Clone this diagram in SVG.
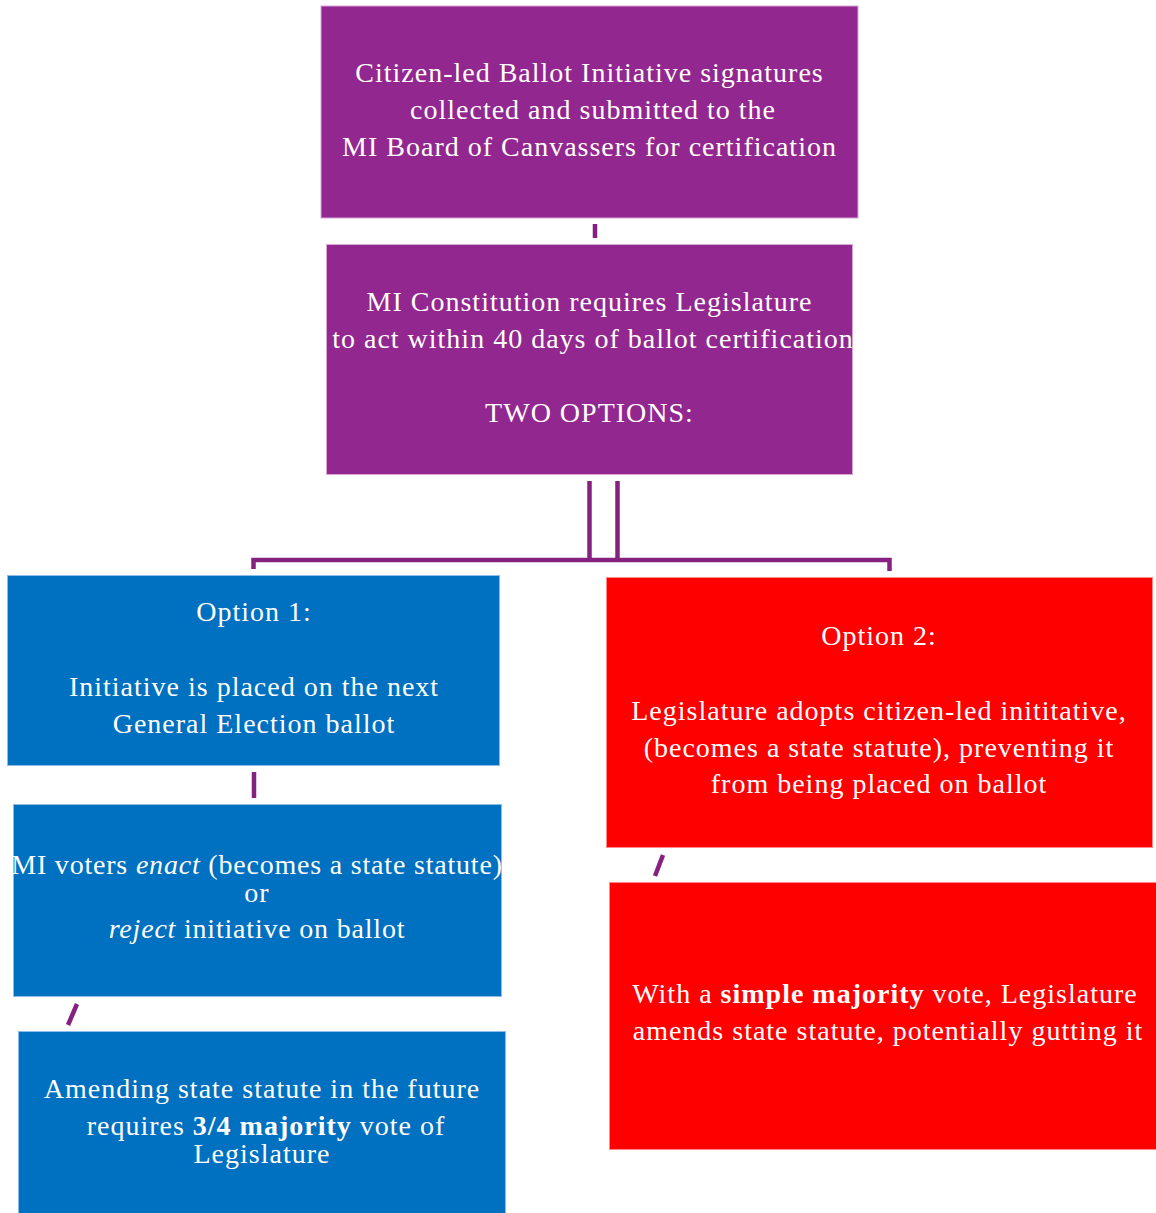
<svg xmlns="http://www.w3.org/2000/svg" width="1156" height="1213" viewBox="0 0 1156 1213">
<style>
.t{font-family:"Liberation Serif","Times New Roman",serif;font-size:28px;letter-spacing:1px;fill:#ffffff;text-anchor:middle}
.n{letter-spacing:0.8px}
.p{fill:#92278F;stroke:#D9A6D6;stroke-width:1}
.b{fill:#0070C0;stroke:#8DBDE6;stroke-width:1}
.r{fill:#FF0000;stroke:#FF8A8A;stroke-width:1}
.c{stroke:#862181;stroke-width:4.5;fill:none}
</style>
<rect width="1156" height="1213" fill="#ffffff"/>
<g id="connectors">
<line class="c" x1="595" y1="224" x2="595" y2="238"/>
<line class="c" x1="589.5" y1="481" x2="589.5" y2="560"/>
<line class="c" x1="617.5" y1="481" x2="617.5" y2="560"/>
<polyline class="c" points="253.5,569 253.5,560 889.5,560 889.5,571"/>
<line class="c" x1="254" y1="772" x2="254" y2="798"/>
<line class="c" x1="68" y1="1025" x2="77" y2="1004"/>
<line class="c" x1="655" y1="876" x2="663" y2="855"/>
</g>
<g id="n1">
<rect class="p" x="321" y="6" width="537" height="212"/>
<text class="t" x="589.5" y="82">Citizen-led Ballot Initiative signatures</text>
<text class="t" x="593" y="119">collected and submitted to the</text>
<text class="t" x="589.5" y="156">MI Board of Canvassers for certification</text>
</g>
<g id="n2">
<rect class="p" x="326.5" y="244.5" width="526" height="230"/>
<text class="t" x="589.5" y="311">MI Constitution requires Legislature</text>
<text class="t" x="593" y="348">to act within 40 days of ballot certification</text>
<text class="t" x="589.5" y="422">TWO OPTIONS:</text>
</g>
<g id="n3">
<rect class="b" x="7.5" y="575.5" width="492" height="190"/>
<text class="t" x="254" y="621">Option 1:</text>
<text class="t" x="254" y="696">Initiative is placed on the next</text>
<text class="t" x="254" y="733">General Election ballot</text>
</g>
<g id="n4">
<rect class="b" x="13.5" y="804.5" width="488" height="192"/>
<text class="t n" x="257" y="874">MI voters <tspan font-style="italic">enact</tspan> (becomes a state statute)</text>
<text class="t" x="257" y="902">or</text>
<text class="t n" x="257" y="938"><tspan font-style="italic">reject</tspan> initiative on ballot</text>
</g>
<g id="n5">
<rect class="b" x="18.5" y="1031.5" width="487" height="190"/>
<text class="t" x="262" y="1098">Amending state statute in the future</text>
<text class="t" x="266" y="1135">requires <tspan font-weight="bold">3/4 majority</tspan> vote of</text>
<text class="t" x="262" y="1163">Legislature</text>
</g>
<g id="n6">
<rect class="r" x="606.5" y="577.5" width="546" height="270"/>
<text class="t" x="879" y="645">Option 2:</text>
<text class="t" x="879" y="720">Legislature adopts citizen-led inititative,</text>
<text class="t" x="879" y="757">(becomes a state statute), preventing it</text>
<text class="t" x="879" y="793">from being placed on ballot</text>
</g>
<g id="n7">
<rect class="r" x="609.5" y="882.5" width="560" height="267"/>
<text class="t" x="885" y="1003">With a <tspan font-weight="bold">simple majority</tspan> vote, Legislature</text>
<text class="t" x="888" y="1040">amends state statute, potentially gutting it</text>
</g>
</svg>
